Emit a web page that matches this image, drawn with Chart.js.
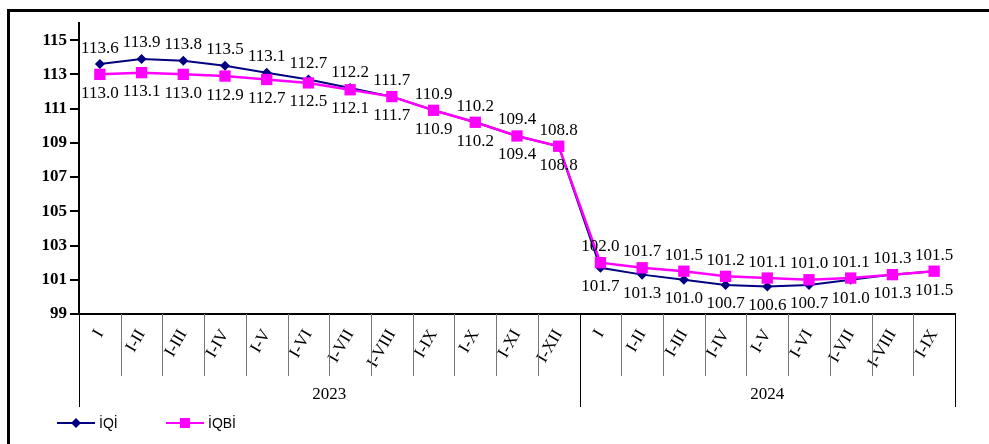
<!DOCTYPE html>
<html>
<head>
<meta charset="utf-8">
<script src="https://cdn.jsdelivr.net/npm/chart.js@4.4.1/dist/chart.umd.min.js"></script>
<style>
    html, body { margin: 0; padding: 0; background: #fff; }
    #wrap { position: relative; width: 989px; height: 444px; overflow: hidden; }
    #frame {
        position: absolute; left: 7px; top: 9px; width: 1100px; height: 600px;
        border-left: 3px solid #000; border-top: 3px solid #000;
    }
    canvas { position: absolute; left: 0; top: 0; }
</style>
</head>
<body>
<div id="wrap">
    <div id="frame"></div>
    <canvas id="chart" width="989" height="444"></canvas>
</div>
<script>
/* ---------- Data ---------- */
const periods = [
    "I", "I-II", "I-III", "I-IV", "I-V", "I-VI", "I-VII", "I-VIII", "I-IX", "I-X", "I-XI", "I-XII",
    "I", "I-II", "I-III", "I-IV", "I-V", "I-VI", "I-VII", "I-VIII", "I-IX"
];
const periodYears = [
    "2023", "2023", "2023", "2023", "2023", "2023", "2023", "2023", "2023", "2023", "2023", "2023",
    "2024", "2024", "2024", "2024", "2024", "2024", "2024", "2024", "2024"
];
const iqiValues = [
    113.6, 113.9, 113.8, 113.5, 113.1, 112.7, 112.2, 111.7, 110.9, 110.2, 109.4, 108.8,
    101.7, 101.3, 101.0, 100.7, 100.6, 100.7, 101.0, 101.3, 101.5
];
const iqbiValues = [
    113.0, 113.1, 113.0, 112.9, 112.7, 112.5, 112.1, 111.7, 110.9, 110.2, 109.4, 108.8,
    102.0, 101.7, 101.5, 101.2, 101.1, 101.0, 101.1, 101.3, 101.5
];
const yTicks = [99, 101, 103, 105, 107, 109, 111, 113, 115];
const seriesNames = ["İQİ", "İQBİ"];

const SERIF = "'Liberation Serif', 'Times New Roman', serif";

/* ---------- Value labels ---------- */
const valueLabels = {
    id: "valueLabels",
    afterDatasetsDraw(chart) {
        const ctx = chart.ctx;
        const a = chart.getDatasetMeta(0).data;
        const b = chart.getDatasetMeta(1).data;
        ctx.save();
        ctx.font = "17px " + SERIF;
        ctx.fillStyle = "#000";
        ctx.textAlign = "center";
        ctx.textBaseline = "middle";
        iqiValues.forEach((v, i) => {
            const iqiUp = v >= iqbiValues[i];
            ctx.fillText(v.toFixed(1), a[i].x, a[i].y + (iqiUp ? -16 : 19));
            ctx.fillText(iqbiValues[i].toFixed(1), b[i].x, b[i].y + (iqiUp ? 19 : -16));
        });
        ctx.restore();
    }
};

/* ---------- Category cells, years, legend ---------- */
const axisDecor = {
    id: "axisDecor",
    afterDraw(chart) {
        const ctx = chart.ctx;
        const xs = chart.scales.x;
        const top = xs.top;
        ctx.save();
        ctx.lineWidth = 1;

        // separators between periods
        for (let i = 0; i <= periods.length; i++) {
            const px = Math.round(xs.getPixelForValue(i - 0.5)) + 0.5;
            const yearEdge = i === 0 || i === periods.length || periodYears[i] !== periodYears[i - 1];
            ctx.strokeStyle = yearEdge ? "#000" : "#777";
            ctx.beginPath();
            ctx.moveTo(px, top);
            ctx.lineTo(px, top + (yearEdge ? 93 : 62));
            ctx.stroke();
        }

        // year labels
        ctx.font = "17px " + SERIF;
        ctx.fillStyle = "#000";
        ctx.textAlign = "center";
        ctx.textBaseline = "middle";
        let start = 0;
        for (let i = 1; i <= periods.length; i++) {
            if (i === periods.length || periodYears[i] !== periodYears[start]) {
                const x0 = xs.getPixelForValue(start - 0.5);
                const x1 = xs.getPixelForValue(i - 0.5);
                ctx.fillText(periodYears[start], (x0 + x1) / 2, top + 81);
                start = i;
            }
        }

        // legend
        const ly = 423;
        const lx = [57, 166];
        ctx.font = "14px 'Liberation Sans', Arial, sans-serif";
        ctx.textAlign = "left";
        chart.data.datasets.forEach(ds => {
            const x = lx[seriesNames.indexOf(ds.label)];
            ctx.strokeStyle = ds.borderColor;
            ctx.lineWidth = 2;
            ctx.beginPath();
            ctx.moveTo(x, ly);
            ctx.lineTo(x + 38, ly);
            ctx.stroke();
            ctx.fillStyle = ds.backgroundColor;
            ctx.beginPath();
            if (ds.pointStyle === "rect") {
                ctx.rect(x + 19 - 5, ly - 5, 10, 10);
            } else {
                ctx.moveTo(x + 19, ly - 5);
                ctx.lineTo(x + 24, ly);
                ctx.lineTo(x + 19, ly + 5);
                ctx.lineTo(x + 14, ly);
                ctx.closePath();
            }
            ctx.fill();
            ctx.fillStyle = "#000";
            ctx.fillText(ds.label, x + 42, ly + 1);
        });
        ctx.restore();
    }
};

/* ---------- Chart ---------- */
function initChart() {
    const ctx = document.getElementById("chart").getContext("2d");

    new Chart(ctx, {
        type: "line",
        data: {
            labels: periods,
            datasets: [
                {
                    label: seriesNames[0],
                    data: iqiValues,
                    borderColor: "#000080",
                    backgroundColor: "#000080",
                    borderWidth: 2,
                    pointStyle: "rectRot",
                    pointRadius: 5,
                    pointBorderWidth: 0,
                    tension: 0,
                    order: 2
                },
                {
                    label: seriesNames[1],
                    data: iqbiValues,
                    borderColor: "#ff00ff",
                    backgroundColor: "#ff00ff",
                    borderWidth: 2.5,
                    pointStyle: "rect",
                    pointRadius: 8,
                    pointBorderWidth: 0,
                    tension: 0,
                    order: 1
                }
            ]
        },
        options: {
            responsive: false,
            animation: false,
            layout: { padding: { top: 23, right: 34, left: 0, bottom: 0 } },
            plugins: {
                legend: { display: false },
                tooltip: { enabled: false }
            },
            scales: {
                x: {
                    offset: true,
                    grid: { display: false, offset: true },
                    border: { color: "#000", width: 2 },
                    ticks: {
                        autoSkip: false,
                        minRotation: 60,
                        maxRotation: 60,
                        padding: 4,
                        color: "#000",
                        font: { family: SERIF, size: 17 }
                    },
                    afterFit: scale => { scale.height = 130; }
                },
                y: {
                    min: 99,
                    max: 116,
                    grid: {
                        drawOnChartArea: false,
                        drawTicks: true,
                        tickLength: 9,
                        color: "#000",
                        lineWidth: 2
                    },
                    border: { color: "#000", width: 2 },
                    ticks: {
                        padding: 3,
                        color: "#000",
                        font: { family: SERIF, size: 17, weight: "bold" }
                    },
                    afterBuildTicks: scale => {
                        scale.ticks = yTicks.map(v => ({ value: v }));
                    },
                    afterFit: scale => { scale.width = 79; }
                }
            }
        },
        plugins: [valueLabels, axisDecor]
    });
}

document.addEventListener("DOMContentLoaded", initChart);
</script>
</body>
</html>
